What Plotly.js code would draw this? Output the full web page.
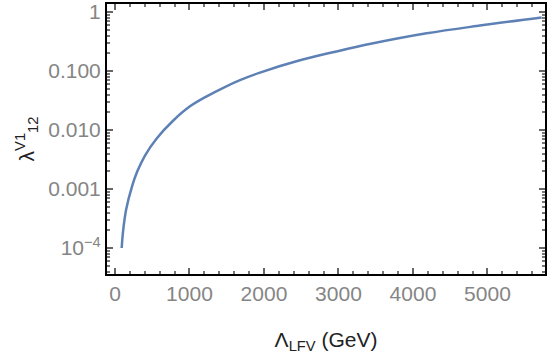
<!DOCTYPE html>
<html>
<head>
<meta charset="utf-8">
<script src="https://cdn.plot.ly/plotly-3.0.1.min.js"></script>
<style>html,body{margin:0;padding:0;background:#fff;}#chart{width:548px;height:356px;}</style>
</head>
<body>
<div id="chart"></div>
<script>
// Data
const lambdaLFV = [90, 110, 150, 230, 300, 403, 560, 783, 1007, 1231, 1454, 1678, 1946, 2483, 2975, 3467, 4183, 4855, 5727];
const lambda12 = [1.0e-4, 2.0e-4, 4.5e-4, 1.12e-3, 2.0e-3, 3.7e-3, 7.2e-3, 0.0145, 0.0252, 0.0372, 0.052, 0.070, 0.094, 0.152, 0.215, 0.295, 0.435, 0.58, 0.81];

const yTickVals = [1e-4, 1e-3, 1e-2, 1e-1, 1];
const yTickText = ['10<sup>\u22124</sup>', '0.001', '0.010', '0.100', '1'];
const xTickVals = [0, 1000, 2000, 3000, 4000, 5000];

// minor tick positions (axis styling)
const yMinor = [];
for (let e = -5; e <= 0; e++) for (let m = 2; m <= 9; m++) yMinor.push(m * Math.pow(10, e));
const xMinor = [];
for (let v = -200; v <= 6000; v += 200) if (v % 1000 !== 0) xMinor.push(v);

const XR = [-107, 5772], YR = [-4.44, 0.136];
const fam = 'Liberation Sans, Arial, sans-serif';
const tickFont = {family: fam, size: 21, color: '#858585'};

const common = {showgrid: false, zeroline: false, fixedrange: true};

Plotly.newPlot('chart', [
  {x: lambdaLFV, y: lambda12, type: 'scatter', mode: 'lines',
   line: {color: '#5E81B5', width: 2.5, shape: 'spline', smoothing: 1}, hoverinfo: 'none'},
  {x: lambdaLFV, y: lambda12, xaxis: 'x2', yaxis: 'y2', type: 'scatter', mode: 'lines',
   line: {width: 0, color: 'rgba(0,0,0,0)'}, hoverinfo: 'none', showlegend: false}
], {
  width: 548, height: 356,
  margin: {l: 107, r: 3, t: 4, b: 82},
  paper_bgcolor: '#fff', plot_bgcolor: '#fff',
  showlegend: false,
  xaxis: Object.assign({}, common, {
    range: XR,
    showline: true, linecolor: '#000', linewidth: 2, mirror: 'allticks',
    ticks: 'inside', ticklen: 6, tickwidth: 2, tickcolor: '#666',
    tickmode: 'array', tickvals: xTickVals, ticktext: xTickVals.map(String),
    tickfont: tickFont, ticklabeloverflow: 'allow',
    title: {text: '\u039B<sub>LFV</sub> (GeV)', font: {family: fam, size: 21, color: '#222'}, standoff: 28}
  }),
  yaxis: Object.assign({}, common, {
    type: 'log', range: YR,
    showline: true, linecolor: '#000', linewidth: 2, mirror: 'allticks',
    ticks: 'inside', ticklen: 6, tickwidth: 2, tickcolor: '#666',
    tickmode: 'array', tickvals: yTickVals, ticktext: yTickText,
    tickfont: tickFont, ticklabeloverflow: 'allow',
    title: {text: '\u03BB<sup>V1</sup><sub>12</sub>', font: {family: fam, size: 21, color: '#222'}, standoff: 8}
  }),
  xaxis2: Object.assign({}, common, {
    overlaying: 'x', anchor: 'y2', side: 'bottom', range: XR,
    showline: false, mirror: 'allticks',
    ticks: 'inside', ticklen: 3, tickwidth: 2, tickcolor: '#777',
    tickmode: 'array', tickvals: xMinor, showticklabels: false
  }),
  yaxis2: Object.assign({}, common, {
    overlaying: 'y', anchor: 'x2', side: 'left', type: 'log', range: YR,
    showline: false, mirror: 'allticks',
    ticks: 'inside', ticklen: 3, tickwidth: 2, tickcolor: '#777',
    tickmode: 'array', tickvals: yMinor, showticklabels: false
  })
}, {staticPlot: true, displayModeBar: false});
</script>
</body>
</html>
